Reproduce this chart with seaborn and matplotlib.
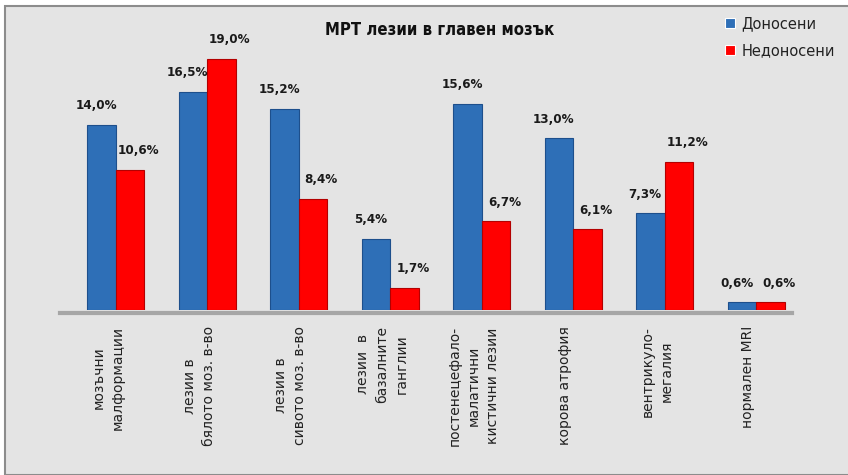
import pandas as pd
import matplotlib
matplotlib.use("Agg")
import matplotlib.pyplot as plt
import matplotlib.patches as mpatches
import matplotlib.transforms as mtransforms
import seaborn as sns

categories = [
    "мозъчни\nмалформации",
    "лезии в\nбялото моз. в-во",
    "лезии в\nсивото моз. в-во",
    "лезии  в\nбазалните\nганглии",
    "постенецефало-\nмалатични\nкистични лезии",
    "корова атрофия",
    "вентрикуло-\nмегалия",
    "нормален MRI",
]
series = ["Доносени", "Недоносени"]
donoseni = [14.0, 16.5, 15.2, 5.4, 15.6, 13.0, 7.3, 0.6]
nedonoseni = [10.6, 19.0, 8.4, 1.7, 6.7, 6.1, 11.2, 0.6]

df = pd.DataFrame({
    "cat": categories * 2,
    "group": [series[0]] * len(categories) + [series[1]] * len(categories),
    "value": donoseni + nedonoseni,
})

sns.set_style("white")
plt.rcParams["font.family"] = ["DejaVu Sans"]

bg = "#e4e4e4"
fig = plt.figure(figsize=(8.48, 4.75), dpi=100, facecolor="white")
# gray panel with thin frame like the original slide
fig.patches.append(mpatches.Rectangle((5 / 848, 0), 1, 1 - 6 / 475, transform=fig.transFigure,
                                      facecolor=bg, edgecolor="#8c8c8c", linewidth=1.5, zorder=-5))
ax = fig.add_axes([60 / 848, 1 - 310 / 475, 732 / 848, 295 / 475])
ax.set_facecolor("none")

sns.barplot(data=df, x="cat", y="value", hue="group", order=categories, hue_order=series,
            palette=["#2e6fb7", "#ff0000"], width=0.62, gap=0, saturation=1,
            linewidth=0.8, ax=ax)

edges = ["#1d4f8c", "#b30000"]
shifts = [-4, 6]
for cont, vals, ec, dx in zip(ax.containers, [donoseni, nedonoseni], edges, shifts):
    for bar in cont:
        bar.set_edgecolor(ec)
    anns = ax.bar_label(cont, labels=[f"{v:.1f}%".replace(".", ",") for v in vals], padding=9,
                        fontsize=9.5, fontweight="bold", fontstretch="condensed", color="#1a1a1a")
    for a in anns:
        a.xyann = (dx, 9)

ax.set_xlim(-0.61, 7.39)
ax.set_ylim(0, 22.3)
ax.set_xlabel("")
ax.set_ylabel("")
ax.set_yticks([])
ax.tick_params(axis="x", length=0, pad=9)
for s in ["top", "right", "left"]:
    ax.spines[s].set_visible(False)
ax.spines["bottom"].set_color("#a6a6a6")
ax.spines["bottom"].set_linewidth(3)
ax.spines["bottom"].set_position(("data", -0.25))
ax.set_xticks(range(len(categories)))
ax.set_xticklabels(categories, rotation=90, fontsize=10, color="#222222",
                   ha="center", va="top", multialignment="center", linespacing=1.45)
# category labels sit a little left of the bar pairs
shift = mtransforms.ScaledTranslation(-8 / 100, 0, fig.dpi_scale_trans)
for lab in ax.get_xticklabels():
    lab.set_transform(lab.get_transform() + shift)

fig.text(440 / 848, 1 - 30 / 475, "МРТ лезии в главен мозък", ha="center", va="center",
         fontsize=12, fontweight="bold", fontstretch="condensed", color="#111111")

leg = ax.legend(loc="upper left", bbox_to_anchor=(712 / 848, 1 - 3 / 475),
                bbox_transform=fig.transFigure, frameon=False, fontsize=10.5,
                handlelength=0.7, handleheight=0.7, handletextpad=0.4, labelspacing=0.8)
for t in leg.get_texts():
    t.set_color("#222222")

fig.savefig("out.png", dpi=100, facecolor="white")
